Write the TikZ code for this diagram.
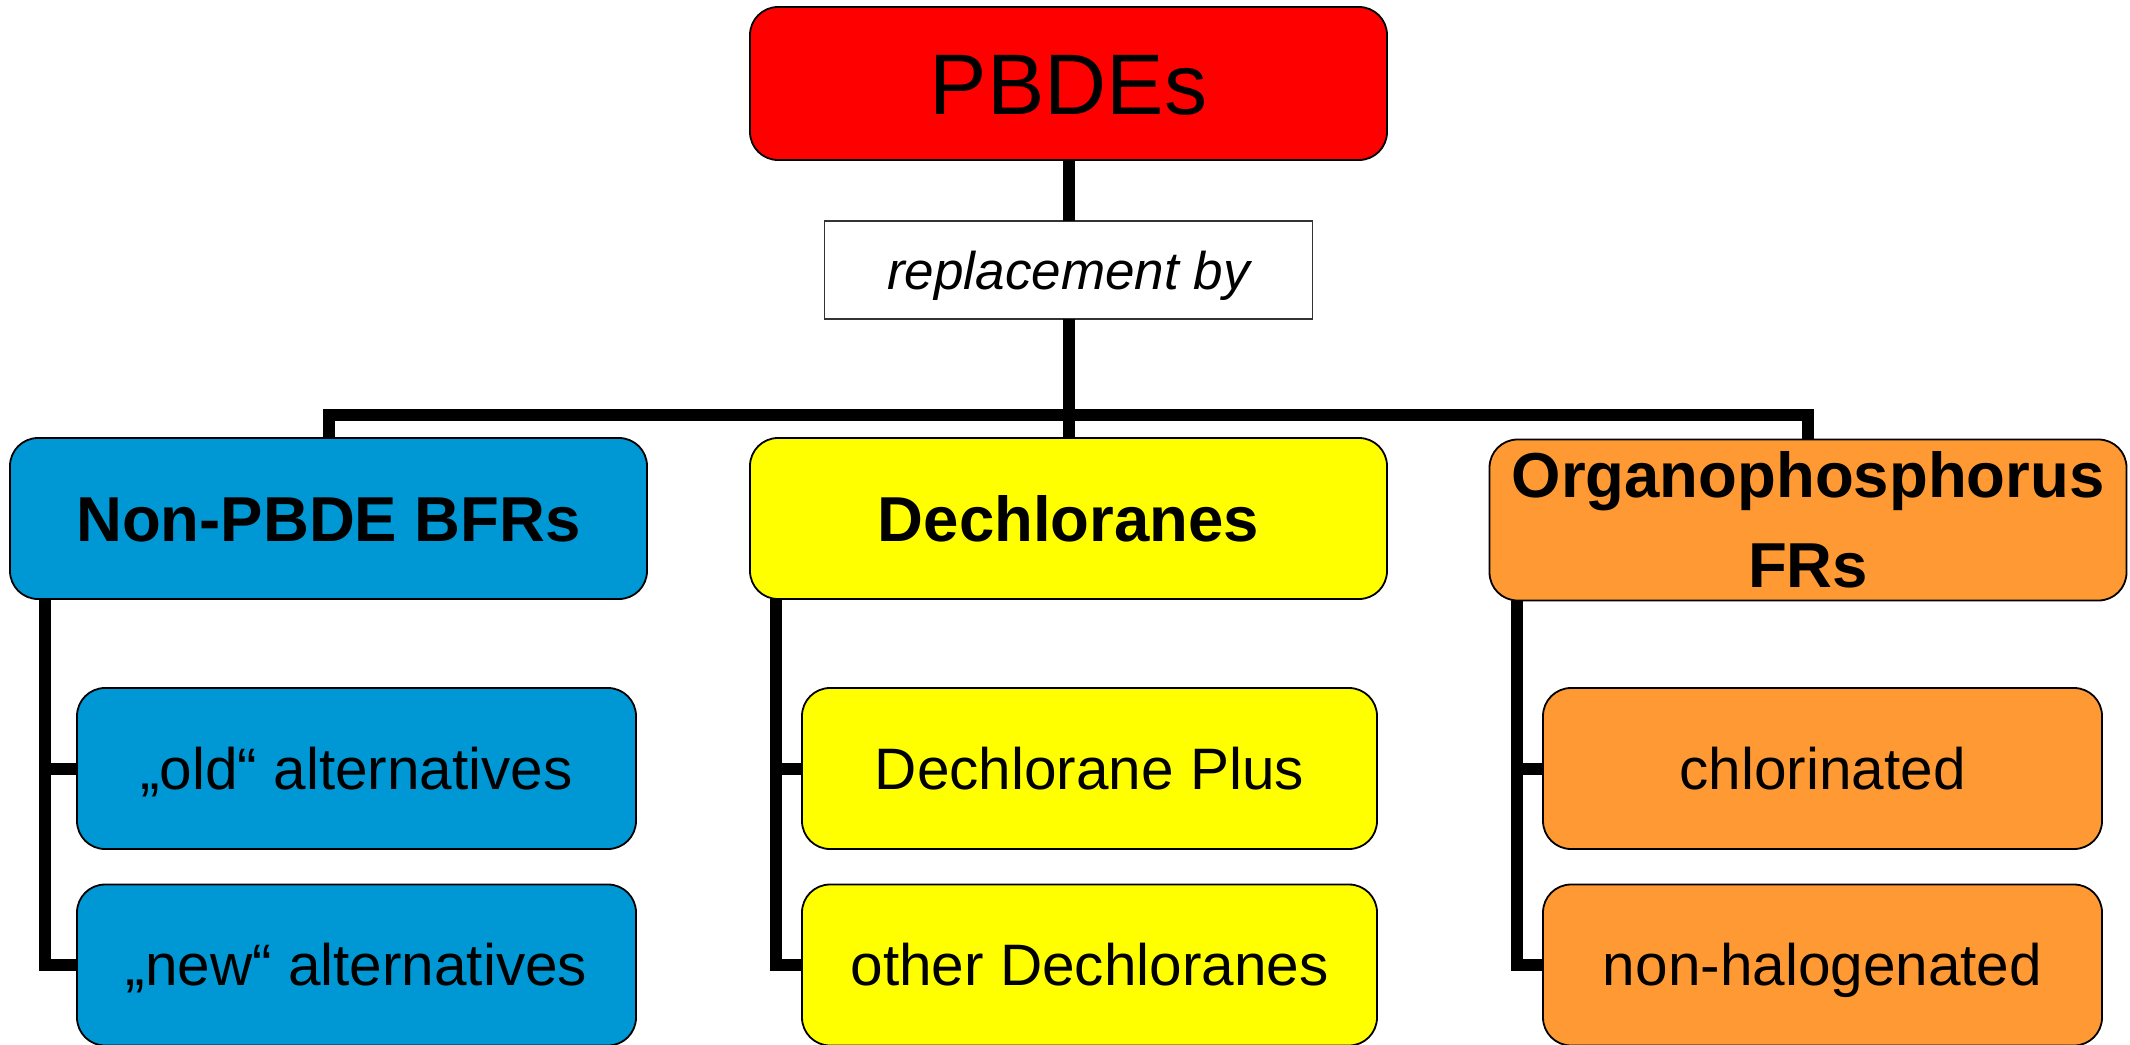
\documentclass[tikz,border=0pt]{standalone}
\usepackage{fontspec}
\setmainfont{Liberation Sans}
\definecolor{pbred}{RGB}{255,0,0}
\definecolor{bfrblue}{RGB}{0,152,212}
\definecolor{dcyellow}{RGB}{255,255,0}
\definecolor{oporange}{RGB}{255,153,51}
\begin{document}
\begin{tikzpicture}[x=0.5pt,y=-0.5pt,
  box/.style={draw=black,line width=0.9pt,rounded corners=14pt,inner sep=0pt,outer sep=0pt,align=center,text=black},
  hdr/.style={box,minimum width=318.5pt,minimum height=80.5pt,font=\fontsize{31.75}{45}\selectfont\bfseries,text height=22.7pt,text depth=0pt},
  sub/.style={box,minimum width=279.5pt,minimum height=80.5pt,font=\fontsize{29.25}{35}\selectfont,text height=20.9pt,text depth=0pt},
  conn/.style={line width=6pt,line join=miter,draw=black}]
\useasboundingbox (0,0) rectangle (2130,1044);
% connector coordinates
\coordinate (bar) at (1068.5,415);
\coordinate (t1) at (45,0);
\coordinate (t2) at (776,0);
\coordinate (t3) at (1517,0);
% top
\node[box,fill=pbred,minimum width=318.5pt,minimum height=76.5pt,font=\fontsize{43}{50}\selectfont,text height=30.8pt,text depth=0pt] (pb) at (1068.5,83.5) {PBDEs};
\node[draw=black!80,line width=0.7pt,fill=white,inner sep=0pt,outer sep=0pt,minimum width=244pt,minimum height=49pt,font=\fontsize{26.5}{30}\selectfont\itshape,text height=19pt,text depth=0pt] (rep) at (1068.5,270) {replacement by};
% headers
\node[hdr,fill=bfrblue] (nb) at (328.5,518.5) {Non-PBDE BFRs};
\node[hdr,fill=dcyellow] (dc) at (1068.5,518.5) {Dechloranes};
\node[hdr,fill=oporange,text height=67.7pt,text depth=0pt] (op) at (1808,520) {Organophosphorus\\FRs};
% children
\node[sub,fill=bfrblue] (old) at (356.5,768.5) {„old“ alternatives};
\node[sub,fill=bfrblue] (new) at (356.5,965) {„new“ alternatives};
\node[sub,fill=dcyellow,minimum width=287.5pt] (dp) at (1089.5,768.5) {Dechlorane Plus};
\node[sub,fill=dcyellow,minimum width=287.5pt] (od) at (1089.5,965) {other Dechloranes};
\node[sub,fill=oporange] (cl) at (1822.5,768.5) {chlorinated};
\node[sub,fill=oporange] (nh) at (1822.5,965) {non-halogenated};
% connectors
\draw[conn] (pb.south) -- (rep.north);
\draw[conn] (rep.south) -- (dc.north);
\draw[conn] (nb.north) -- (nb.north |- bar) -- (op.north |- bar) -- (op.north);
\draw[conn] (t1 |- nb.south) -- (t1 |- new.west) -- (new.west);
\draw[conn] (t1 |- old.west) -- (old.west);
\draw[conn] (t2 |- dc.south) -- (t2 |- od.west) -- (od.west);
\draw[conn] (t2 |- dp.west) -- (dp.west);
\draw[conn] (t3 |- op.south) -- (t3 |- nh.west) -- (nh.west);
\draw[conn] (t3 |- cl.west) -- (cl.west);
\end{tikzpicture}
\end{document}
